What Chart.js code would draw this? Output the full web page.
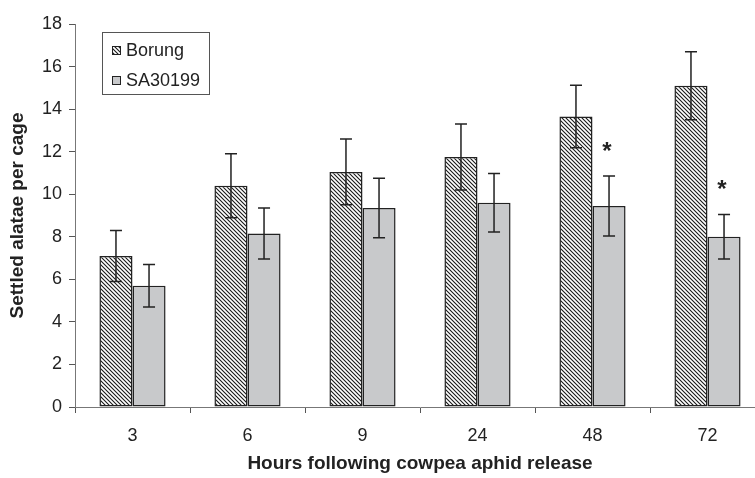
<!DOCTYPE html>
<html>
<head>
<meta charset="utf-8">
<script src="https://cdn.jsdelivr.net/npm/chart.js@4.4.0/dist/chart.umd.min.js"></script>
<style>
    html, body { margin: 0; padding: 0; background: #fff; overflow: hidden; }
    #wrap { width: 770px; height: 478px; position: relative; }
</style>
</head>
<body>
<div id="wrap"><canvas id="chart"></canvas></div>
<script>
// ─── DATA ─────────────────────────────────────────────────────────────────────
const hours = ['3', '6', '9', '24', '48', '72'];
const borung = [7.1, 10.4, 11.05, 11.75, 13.65, 15.1];
const borungErr = [1.2, 1.5, 1.55, 1.55, 1.47, 1.6];
const sa30199 = [5.7, 8.15, 9.35, 9.6, 9.45, 8.0];
const sa30199Err = [1.0, 1.2, 1.4, 1.37, 1.41, 1.05];
const saSignificant = [false, false, false, false, true, true];
const yMax = 18;
const yStep = 2;

// ─── STYLE ────────────────────────────────────────────────────────────────────
const ink = '#222';
const grayFill = '#c8c9cb';
const font = 'Liberation Sans, Arial, sans-serif';

function hatchPattern() {
    const p = document.createElement('canvas');
    p.width = 4; p.height = 4;
    const g = p.getContext('2d');
    g.fillStyle = '#fff';
    g.fillRect(0, 0, 4, 4);
    g.strokeStyle = '#1a1a1a';
    g.lineWidth = 1.1;
    g.beginPath();
    g.moveTo(-1, -1); g.lineTo(5, 5);
    g.moveTo(-1, 3); g.lineTo(1, 5);
    g.moveTo(3, -1); g.lineTo(5, 1);
    g.stroke();
    return g.createPattern(p, 'repeat');
}
const hatch = hatchPattern();

// ─── PLUGINS ──────────────────────────────────────────────────────────────────
const errorBars = {
    id: 'errorBars',
    afterDatasetsDraw(chart) {
        const { ctx, scales: { y } } = chart;
        const errs = [borungErr, sa30199Err];
        ctx.save();
        ctx.strokeStyle = ink;
        ctx.lineWidth = 1.5;
        chart.data.datasets.forEach((ds, i) => {
            chart.getDatasetMeta(i).data.forEach((bar, j) => {
                const v = ds.data[j], e = errs[i][j];
                const top = y.getPixelForValue(v + e);
                const bot = y.getPixelForValue(v - e);
                ctx.beginPath();
                ctx.moveTo(bar.x, top); ctx.lineTo(bar.x, bot);
                ctx.moveTo(bar.x - 6, top); ctx.lineTo(bar.x + 6, top);
                ctx.moveTo(bar.x - 6, bot); ctx.lineTo(bar.x + 6, bot);
                ctx.stroke();
                if (i === 1 && saSignificant[j]) {
                    ctx.fillStyle = ink;
                    ctx.font = 'bold 24px ' + font;
                    ctx.textAlign = 'center';
                    ctx.textBaseline = 'middle';
                    ctx.fillText('*', bar.x - 2, top - 24);
                }
            });
        });
        ctx.restore();
    }
};

const boxLegend = {
    id: 'boxLegend',
    afterDraw(chart) {
        const { ctx } = chart;
        ctx.save();
        ctx.strokeStyle = '#555';
        ctx.lineWidth = 1;
        ctx.strokeRect(102.5, 32.5, 107, 62);
        chart.data.datasets.forEach((ds, i) => {
            const cy = 50 + i * 30;
            ctx.fillStyle = ds.backgroundColor;
            ctx.fillRect(112, cy - 4, 9, 9);
            ctx.strokeStyle = ink;
            ctx.strokeRect(112.5, cy - 3.5, 8, 8);
            ctx.fillStyle = ink;
            ctx.font = '18px ' + font;
            ctx.textAlign = 'left';
            ctx.textBaseline = 'middle';
            ctx.fillText(ds.label, 126, cy + 1);
        });
        ctx.restore();
    }
};

// ─── CHART ────────────────────────────────────────────────────────────────────
Chart.defaults.font.family = font;
Chart.defaults.color = ink;

new Chart(document.getElementById('chart'), {
    type: 'bar',
    data: {
        labels: hours,
        datasets: [
            { label: 'Borung', data: borung, backgroundColor: hatch, borderColor: ink, borderWidth: 1.5, borderSkipped: false },
            { label: 'SA30199', data: sa30199, backgroundColor: grayFill, borderColor: ink, borderWidth: 1.5, borderSkipped: false }
        ]
    },
    options: {
        responsive: true,
        maintainAspectRatio: false,
        animation: false,
        layout: { padding: { top: 24, right: 5, left: 0, bottom: 0 } },
        datasets: { bar: { categoryPercentage: 0.575, barPercentage: 1 } },
        plugins: { legend: { display: false }, tooltip: { enabled: false } },
        scales: {
            x: {
                afterFit: s => { s.height = 71; },
                grid: { drawOnChartArea: false, tickLength: 6, color: '#555', offset: true },
                border: { color: '#777', width: 1 },
                ticks: { font: { size: 18 }, padding: 12 },
                title: { display: true, text: 'Hours following cowpea aphid release', font: { size: 19, weight: 'bold' }, padding: { bottom: 3 } }
            },
            y: {
                min: 0,
                max: yMax,
                afterFit: s => { s.width = 75; },
                grid: { drawOnChartArea: false, tickLength: 6, color: '#555' },
                border: { color: '#777', width: 1 },
                ticks: { stepSize: yStep, font: { size: 18 }, padding: 7 },
                title: { display: true, text: 'Settled alatae per cage', font: { size: 19, weight: 'bold' }, padding: { top: 6 } }
            }
        }
    },
    plugins: [errorBars, boxLegend]
});
</script>
</body>
</html>
